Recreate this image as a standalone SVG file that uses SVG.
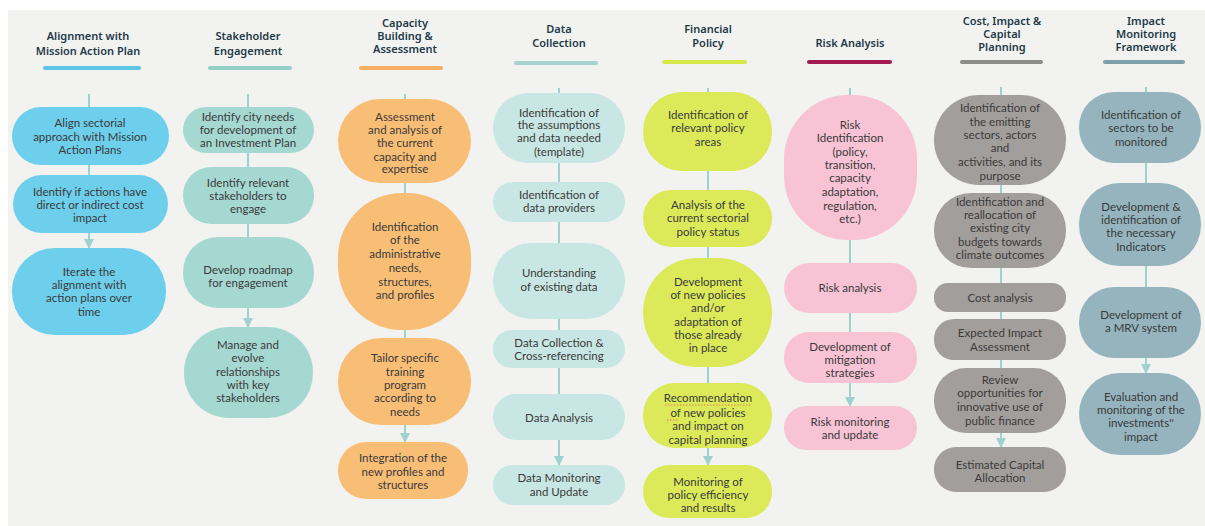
<svg xmlns="http://www.w3.org/2000/svg" width="1205" height="526" viewBox="0 0 1205 526">
<defs>
<style>
.t{font-family:"Noto Sans","DejaVu Sans",sans-serif;font-weight:600;font-size:11px;fill:#1e3a48;text-anchor:middle}
.b{font-family:Lato,"Liberation Sans",sans-serif;font-size:11.5px;fill:#3a3a3a;text-anchor:middle}
.c{stroke:#9fd2cd;stroke-width:2;fill:none}
.c1{fill:#6dcfec}.c2{fill:#a6d8d2}.c3{fill:#f9be75}.c4{fill:#c8e6e3}.c5{fill:#dcea5a}.c6{fill:#f7c3d5}.c7{fill:#a29e9c}.c8{fill:#95b4be}
</style>
<marker id="ar" viewBox="0 0 10 10" refX="9" refY="5" markerWidth="5" markerHeight="5" orient="auto"><path d="M0,0 L10,5 L0,10 z" fill="#9fd2cd"/></marker>
</defs>
<rect x="0" y="0" width="1205" height="526" fill="#fff"/>
<rect x="8" y="10" width="1197" height="516" fill="#f2f2f0"/>

<g id="headers">
<text class="t" x="88" y="40">Alignment with</text><text class="t" x="88" y="55">Mission Action Plan</text>
<rect x="43" y="66" width="98" height="4" rx="2" fill="#5cc6e4"/>
<text class="t" x="248" y="40">Stakeholder</text><text class="t" x="248" y="55">Engagement</text>
<rect x="208" y="66" width="84" height="4" rx="2" fill="#94cfc8"/>
<text class="t" x="405" y="27">Capacity</text><text class="t" x="405" y="40">Building &amp;</text><text class="t" x="405" y="53">Assessment</text>
<rect x="359" y="66" width="84" height="4" rx="2" fill="#f5b062"/>
<text class="t" x="559" y="33">Data</text><text class="t" x="559" y="47">Collection</text>
<rect x="514" y="61" width="84" height="4" rx="2" fill="#a9d3cf"/>
<text class="t" x="708" y="33">Financial</text><text class="t" x="708" y="47">Policy</text>
<rect x="662" y="60" width="85" height="4" rx="2" fill="#d4e84a"/>
<text class="t" x="850" y="47">Risk Analysis</text>
<rect x="807" y="60" width="85" height="4" rx="2" fill="#a21a4f"/>
<text class="t" x="1002" y="25">Cost, Impact &amp;</text><text class="t" x="1002" y="38">Capital</text><text class="t" x="1002" y="51">Planning</text>
<rect x="960" y="60" width="83" height="4" rx="2" fill="#8c8c8c"/>
<text class="t" x="1146" y="25">Impact</text><text class="t" x="1146" y="38">Monitoring</text><text class="t" x="1146" y="51">Framework</text>
<rect x="1103" y="60" width="82" height="4" rx="2" fill="#7f9fab"/>
</g>

<g id="connectors">
<line class="c" x1="89" y1="94" x2="89" y2="107"/><line class="c" x1="89" y1="165" x2="89" y2="175"/><line class="c" x1="89" y1="233" x2="89" y2="248" marker-end="url(#ar)"/>
<line class="c" x1="248" y1="94" x2="248" y2="107"/><line class="c" x1="248" y1="153" x2="248" y2="167"/><line class="c" x1="248" y1="224" x2="248" y2="237"/><line class="c" x1="248" y1="308" x2="248" y2="327" marker-end="url(#ar)"/>
<line class="c" x1="405" y1="94" x2="405" y2="99"/><line class="c" x1="405" y1="183" x2="405" y2="193"/><line class="c" x1="405" y1="330" x2="405" y2="338"/><line class="c" x1="405" y1="425" x2="405" y2="442" marker-end="url(#ar)"/>
<line class="c" x1="559" y1="88" x2="559" y2="93"/><line class="c" x1="559" y1="163" x2="559" y2="182"/><line class="c" x1="559" y1="222" x2="559" y2="243"/><line class="c" x1="559" y1="319" x2="559" y2="330"/><line class="c" x1="559" y1="368" x2="559" y2="394"/><line class="c" x1="559" y1="440" x2="559" y2="465" marker-end="url(#ar)"/>
<line class="c" x1="708" y1="88" x2="708" y2="92"/><line class="c" x1="708" y1="171" x2="708" y2="190"/><line class="c" x1="708" y1="247" x2="708" y2="258"/><line class="c" x1="708" y1="367" x2="708" y2="383"/><line class="c" x1="708" y1="448" x2="708" y2="465" marker-end="url(#ar)"/>
<line class="c" x1="850" y1="88" x2="850" y2="95"/><line class="c" x1="850" y1="240" x2="850" y2="263"/><line class="c" x1="850" y1="313" x2="850" y2="332"/><line class="c" x1="850" y1="383" x2="850" y2="406" marker-end="url(#ar)"/>
<line class="c" x1="1001" y1="87" x2="1001" y2="95"/><line class="c" x1="1001" y1="185" x2="1001" y2="193"/><line class="c" x1="1001" y1="268" x2="1001" y2="283"/><line class="c" x1="1001" y1="312" x2="1001" y2="319"/><line class="c" x1="1001" y1="360" x2="1001" y2="368"/><line class="c" x1="1001" y1="433" x2="1001" y2="447" marker-end="url(#ar)"/>
<line class="c" x1="1146" y1="87" x2="1146" y2="92"/><line class="c" x1="1146" y1="163" x2="1146" y2="183"/><line class="c" x1="1146" y1="266" x2="1146" y2="287"/><line class="c" x1="1146" y1="358" x2="1146" y2="373" marker-end="url(#ar)"/>
</g>

<g id="col1">
<g id="n1-1"><rect class="c1" x="12" y="107" width="157" height="58" rx="29"/><text class="b" x="90" y="127">Align sectorial</text><text class="b" x="90" y="141">approach with Mission</text><text class="b" x="90" y="154">Action Plans</text></g>
<g id="n1-2"><rect class="c1" x="13" y="175" width="155" height="58" rx="29"/><text class="b" x="90" y="196">Identify if actions have</text><text class="b" x="90" y="209">direct or indirect cost</text><text class="b" x="90" y="222">impact</text></g>
<g id="n1-3"><rect class="c1" x="12" y="248" width="154" height="87" rx="43"/><text class="b" x="89" y="276">Iterate the</text><text class="b" x="89" y="289">alignment  with</text><text class="b" x="89" y="302">action plans over</text><text class="b" x="89" y="316">time</text></g>
</g>

<g id="col2">
<g id="n2-1"><rect class="c2" x="183" y="107" width="131" height="46" rx="23"/><text class="b" x="248" y="121">Identify city needs</text><text class="b" x="248" y="134">for development of</text><text class="b" x="248" y="147">an Investment Plan</text></g>
<g id="n2-2"><rect class="c2" x="183" y="167" width="131" height="57" rx="28"/><text class="b" x="248" y="187">Identify relevant</text><text class="b" x="248" y="200">stakeholders to</text><text class="b" x="248" y="213">engage</text></g>
<g id="n2-3"><rect class="c2" x="183" y="237" width="131" height="71" rx="35"/><text class="b" x="248" y="274">Develop roadmap</text><text class="b" x="248" y="287">for engagement</text></g>
<g id="n2-4"><rect class="c2" x="184" y="327" width="129" height="91" rx="45"/><text class="b" x="248" y="349">Manage and</text><text class="b" x="248" y="362">evolve</text><text class="b" x="248" y="376">relationships</text><text class="b" x="248" y="389">with key</text><text class="b" x="248" y="402">stakeholders</text></g>
</g>

<g id="col3">
<g id="n3-1"><rect class="c3" x="338" y="99" width="133" height="84" rx="42"/><text class="b" x="405" y="121">Assessment</text><text class="b" x="405" y="134">and analysis of</text><text class="b" x="405" y="147">the current</text><text class="b" x="405" y="161">capacity and</text><text class="b" x="405" y="173">expertise</text></g>
<g id="n3-2"><rect class="c3" x="338" y="193" width="133" height="137" rx="64"/><text class="b" x="405" y="231">Identification</text><text class="b" x="405" y="244">of the</text><text class="b" x="405" y="258">administrative</text><text class="b" x="405" y="272">needs,</text><text class="b" x="405" y="286">structures,</text><text class="b" x="405" y="299">and profiles</text></g>
<g id="n3-3"><rect class="c3" x="338" y="338" width="133" height="87" rx="43"/><text class="b" x="405" y="362">Tailor specific</text><text class="b" x="405" y="376">training</text><text class="b" x="405" y="389">program</text><text class="b" x="405" y="402">according to</text><text class="b" x="405" y="416">needs</text></g>
<g id="n3-4"><rect class="c3" x="338" y="442" width="130" height="57" rx="28"/><text class="b" x="403" y="462">Integration of the</text><text class="b" x="403" y="476">new profiles and</text><text class="b" x="403" y="489">structures</text></g>
</g>

<g id="col4">
<g id="n4-1"><rect class="c4" x="493" y="93" width="132" height="70" rx="35"/><text class="b" x="559" y="117">Identification of</text><text class="b" x="559" y="129">the assumptions</text><text class="b" x="559" y="142">and data needed</text><text class="b" x="559" y="156">(template)</text></g>
<g id="n4-2"><rect class="c4" x="493" y="182" width="132" height="40" rx="20"/><text class="b" x="559" y="199">Identification of</text><text class="b" x="559" y="212">data providers</text></g>
<g id="n4-3"><rect class="c4" x="493" y="243" width="132" height="76" rx="38"/><text class="b" x="559" y="277">Understanding</text><text class="b" x="559" y="291">of existing data</text></g>
<g id="n4-4"><rect class="c4" x="493" y="330" width="132" height="38" rx="19"/><text class="b" x="559" y="347">Data Collection &amp;</text><text class="b" x="559" y="360">Cross-referencing</text></g>
<g id="n4-5"><rect class="c4" x="493" y="394" width="132" height="46" rx="23"/><text class="b" x="559" y="422">Data Analysis</text></g>
<g id="n4-6"><rect class="c4" x="493" y="465" width="132" height="40" rx="20"/><text class="b" x="559" y="482">Data Monitoring</text><text class="b" x="559" y="496">and Update</text></g>
</g>

<g id="col5">
<g id="n5-1"><rect class="c5" x="643" y="92" width="129" height="79" rx="39"/><text class="b" x="708" y="119">Identification of</text><text class="b" x="708" y="132">relevant policy</text><text class="b" x="708" y="146">areas</text></g>
<g id="n5-2"><rect class="c5" x="643" y="190" width="129" height="57" rx="28"/><text class="b" x="708" y="209">Analysis of the</text><text class="b" x="708" y="222">current sectorial</text><text class="b" x="708" y="236">policy status</text></g>
<g id="n5-3"><rect class="c5" x="643" y="258" width="129" height="109" rx="54"/><text class="b" x="708" y="286">Development</text><text class="b" x="708" y="299">of new policies</text><text class="b" x="708" y="312">and/or</text><text class="b" x="708" y="326">adaptation of</text><text class="b" x="708" y="339">those already</text><text class="b" x="708" y="352">in place</text></g>
<g id="n5-4"><rect class="c5" x="643" y="383" width="129" height="65" rx="32"/><text class="b" x="708" y="402">Recommendation</text><text class="b" x="708" y="417">of new policies</text><text class="b" x="708" y="430">and impact on</text><text class="b" x="708" y="444">capital planning</text>
<path d="M665,405 h86 M667,420 h12" fill="none" stroke="#e0533a" stroke-width="1" stroke-dasharray="1.5 1.5" opacity="0.75"/></g>
<g id="n5-5"><rect class="c5" x="643" y="465" width="129" height="53" rx="26"/><text class="b" x="708" y="486">Monitoring of</text><text class="b" x="708" y="499">policy efficiency</text><text class="b" x="708" y="512">and results</text></g>
</g>

<g id="col6">
<g id="n6-1"><rect class="c6" x="784" y="95" width="133" height="145" rx="64"/><text class="b" x="850" y="129">Risk</text><text class="b" x="850" y="142">Identification</text><text class="b" x="850" y="156">(policy,</text><text class="b" x="850" y="169">transition,</text><text class="b" x="850" y="182">capacity</text><text class="b" x="850" y="196">adaptation,</text><text class="b" x="850" y="210">regulation,</text><text class="b" x="850" y="223">etc.)</text></g>
<g id="n6-2"><rect class="c6" x="784" y="263" width="133" height="50" rx="25"/><text class="b" x="850" y="292">Risk analysis</text></g>
<g id="n6-3"><rect class="c6" x="784" y="332" width="133" height="51" rx="25"/><text class="b" x="850" y="351">Development of</text><text class="b" x="850" y="364">mitigation</text><text class="b" x="850" y="377">strategies</text></g>
<g id="n6-4"><rect class="c6" x="784" y="406" width="133" height="44" rx="22"/><text class="b" x="850" y="426">Risk monitoring</text><text class="b" x="850" y="439">and update</text></g>
</g>

<g id="col7">
<g id="n7-1"><rect class="c7" x="934" y="95" width="132" height="90" rx="45"/><text class="b" x="1000" y="112">Identification of</text><text class="b" x="1000" y="126">the emitting</text><text class="b" x="1000" y="139">sectors, actors</text><text class="b" x="1000" y="152">and</text><text class="b" x="1000" y="166">activities, and its</text><text class="b" x="1000" y="180">purpose</text></g>
<g id="n7-2"><rect class="c7" x="934" y="193" width="132" height="75" rx="37"/><text class="b" x="1000" y="206">Identification and</text><text class="b" x="1000" y="219">reallocation of</text><text class="b" x="1000" y="232">existing city</text><text class="b" x="1000" y="246">budgets towards</text><text class="b" x="1000" y="259">climate outcomes</text></g>
<g id="n7-3"><rect class="c7" x="934" y="283" width="132" height="29" rx="14"/><text class="b" x="1000" y="302">Cost analysis</text></g>
<g id="n7-4"><rect class="c7" x="934" y="319" width="132" height="41" rx="20"/><text class="b" x="1000" y="337">Expected Impact</text><text class="b" x="1000" y="351">Assessment</text></g>
<g id="n7-5"><rect class="c7" x="934" y="368" width="132" height="65" rx="32"/><text class="b" x="1000" y="384">Review</text><text class="b" x="1000" y="397">opportunities for</text><text class="b" x="1000" y="411">innovative use of</text><text class="b" x="1000" y="425">public finance</text></g>
<g id="n7-6"><rect class="c7" x="934" y="447" width="132" height="45" rx="22"/><text class="b" x="1000" y="469">Estimated Capital</text><text class="b" x="1000" y="482">Allocation</text></g>
</g>

<g id="col8">
<g id="n8-1"><rect class="c8" x="1079" y="92" width="122" height="71" rx="35"/><text class="b" x="1141" y="119">Identification of</text><text class="b" x="1141" y="132">sectors to be</text><text class="b" x="1141" y="146">monitored</text></g>
<g id="n8-2"><rect class="c8" x="1079" y="183" width="122" height="83" rx="41"/><text class="b" x="1141" y="211">Development &amp;</text><text class="b" x="1141" y="224">identification of</text><text class="b" x="1141" y="237">the necessary</text><text class="b" x="1141" y="251">Indicators</text></g>
<g id="n8-3"><rect class="c8" x="1079" y="287" width="122" height="71" rx="35"/><text class="b" x="1141" y="319">Development of</text><text class="b" x="1141" y="332">a MRV system</text></g>
<g id="n8-4"><rect class="c8" x="1079" y="373" width="122" height="82" rx="41"/><text class="b" x="1141" y="401">Evaluation and</text><text class="b" x="1141" y="414">monitoring of the</text><text class="b" x="1141" y="427">investments''</text><text class="b" x="1141" y="441">impact</text></g>
</g>
</svg>
